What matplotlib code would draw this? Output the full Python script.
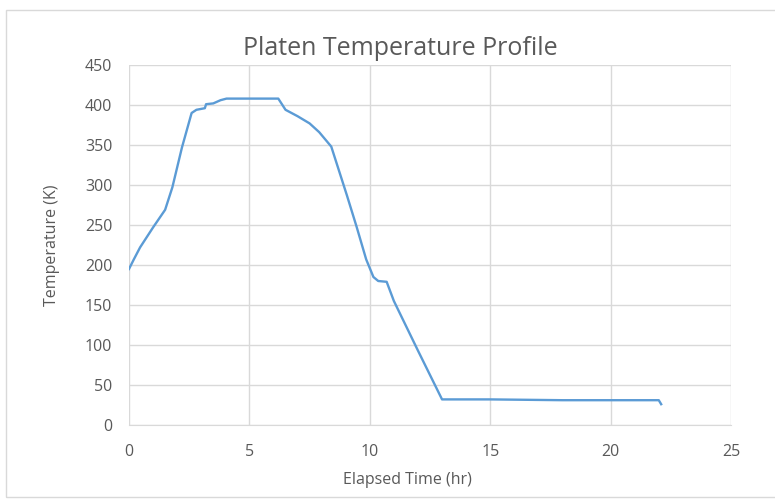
import matplotlib.pyplot as plt
from matplotlib.patches import Rectangle

# elapsed time (hr) and platen temperature (K)
hours = [0.0, 0.2, 0.46, 1.0, 1.5, 1.8, 2.2, 2.6, 2.8, 3.15, 3.2, 3.5, 3.8, 4.05,
         5.0, 6.2, 6.5, 7.0, 7.5, 7.9, 8.4, 9.05, 9.45, 9.85, 10.15, 10.35,
         10.7, 11.0, 12.0, 13.0, 15.0, 18.0, 22.0, 22.1]
temps = [195, 207, 222, 247, 269, 297, 347, 390, 394, 396, 401, 402, 406, 408,
         408, 408, 394, 386, 377, 366, 348, 287, 248, 207, 185, 180,
         179, 155, 93, 32, 32, 31, 31, 26]

fig = plt.figure(figsize=(7.75, 4.99), dpi=100)
plt.rcParams['font.family'] = ['Open Sans', 'DejaVu Sans']

# chart area border like excel
fig.patches.append(Rectangle((6 / 775, 0.004), 1.0, 1 - 10 / 499 - 0.004, transform=fig.transFigure,
                             fill=False, edgecolor="#d9d9d9", linewidth=1))

ax = fig.add_axes([129 / 775, 1 - 425 / 499, (731 - 129) / 775, (425 - 65) / 499])
ax.plot(hours, temps, color="#5b9bd5", linewidth=1.7)

ax.set_xlim(0, 25)
ax.set_ylim(0, 450)
ax.set_xticks(range(0, 26, 5))
ax.set_yticks(range(0, 451, 50))
ax.grid(True, color="#d9d9d9", linewidth=1)
ax.set_axisbelow(True)
for s in ["top", "right", "left"]:
    ax.spines[s].set_visible(False)
ax.spines["bottom"].set_color("#d9d9d9")
ax.tick_params(length=0, colors="#595959", labelsize=11.5)
ax.tick_params(axis="x", pad=14)
ax.tick_params(axis="y", pad=12)

# excel centres the title on the chart area, not the plot
fig.text(400 / 775, 1 - 55 / 499, "Platen Temperature Profile", fontsize=18,
         color="#595959", ha="center", va="baseline")
ax.set_xlabel("Elapsed Time (hr)", fontsize=11.5, color="#595959", labelpad=8)
ax.xaxis.set_label_coords(0.463, -0.13)
ax.set_ylabel("Temperature (K)", fontsize=11.5, color="#595959", labelpad=18)

fig.savefig("out.png", dpi=100)
